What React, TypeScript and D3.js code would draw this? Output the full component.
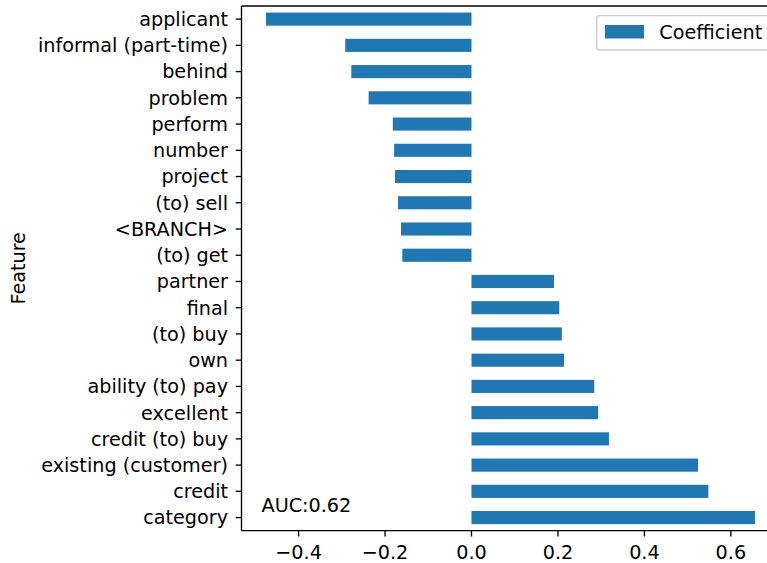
import React from "react";
import * as d3 from "d3";

const features = [
  "applicant",
  "informal (part-time)",
  "behind",
  "problem",
  "perform",
  "number",
  "project",
  "(to) sell",
  "<BRANCH>",
  "(to) get",
  "partner",
  "final",
  "(to) buy",
  "own",
  "ability (to) pay",
  "excellent",
  "credit (to) buy",
  "existing (customer)",
  "credit",
  "category",
];
const coefficients = [
  -0.4755, -0.292, -0.278, -0.238, -0.182, -0.179, -0.177, -0.17, -0.163, -0.16,
  0.191, 0.203, 0.209, 0.214, 0.284, 0.293, 0.318, 0.524, 0.548, 0.656,
];
const xTicks = [-0.4, -0.2, 0.0, 0.2, 0.4, 0.6];
const legendLabel = "Coefficient";
const yAxisLabel = "Feature";
const annotation = "AUC:0.62";

const W = 767;
const H = 563;
const left = 241.5;
const top = 6;
const bottom = 530.7;
const FONT = "DejaVu Sans, sans-serif";
const FS = 19.2;
const BAR = "#1f77b4";

export default function App() {
  const n = features.length;
  const minV = d3.min(coefficients) as number;
  const maxV = d3.max(coefficients) as number;
  const pad = (maxV - minV) * 0.05;
  const x = d3.scaleLinear().domain([minV - pad, maxV + pad]).range([left, left + 538]);
  const y = d3.scaleLinear().domain([-0.5, n - 0.5]).range([bottom, top]);
  const barH = Math.abs(y(0.25) - y(-0.25));
  const fmt = (v: number) => (v < 0 ? "\u2212" + Math.abs(v).toFixed(1) : v.toFixed(1));

  return (
    <svg
      width={W}
      height={H}
      style={{ position: "absolute", left: 0, top: 0, background: "#fff" }}
      fontFamily={FONT}
    >
      <rect x={0} y={0} width={W} height={H} fill="#fff" />
      {features.map((f, i) => {
        const pos = n - 1 - i;
        const v = coefficients[i];
        const x0 = x(Math.min(0, v));
        const x1 = x(Math.max(0, v));
        return (
          <rect key={f} x={x0} y={y(pos) - barH / 2} width={x1 - x0} height={barH} fill={BAR} />
        );
      })}
      {features.map((f, i) => {
        const pos = n - 1 - i;
        const yy = y(pos);
        return (
          <g key={"t" + f}>
            <line x1={left - 5.8} x2={left} y1={yy} y2={yy} stroke="#000" strokeWidth={1.33} />
            <text x={left - 13.5} y={yy} dy="0.36em" textAnchor="end" fontSize={FS} fill="#000">
              {f}
            </text>
          </g>
        );
      })}
      {xTicks.map((t) => (
        <g key={"x" + t}>
          <line x1={x(t)} x2={x(t)} y1={bottom} y2={bottom + 5.8} stroke="#000" strokeWidth={1.33} />
          <text x={x(t)} y={bottom + 28.5} textAnchor="middle" fontSize={FS} fill="#000">
            {fmt(t)}
          </text>
        </g>
      ))}
      <line x1={left} x2={left} y1={top} y2={bottom} stroke="#000" strokeWidth={1.33} />
      <line x1={left} x2={W + 20} y1={top} y2={top} stroke="#000" strokeWidth={1.33} />
      <line x1={left} x2={W + 20} y1={bottom} y2={bottom} stroke="#000" strokeWidth={1.33} />
      <text
        transform={`translate(25, ${(top + bottom) / 2}) rotate(-90)`}
        textAnchor="middle"
        fontSize={FS}
        fill="#000"
      >
        {yAxisLabel}
      </text>
      <text x={261.5} y={511.5} fontSize={FS} fill="#000">
        {annotation}
      </text>
      <rect
        x={596.7}
        y={15.7}
        width={200}
        height={34.3}
        rx={3}
        fill="#fff"
        fillOpacity={0.8}
        stroke="#cccccc"
        strokeWidth={1.33}
      />
      <rect x={605} y={25} width={39} height={13.5} fill={BAR} />
      <text x={659.3} y={32} dy="0.36em" fontSize={FS} fill="#000">
        {legendLabel}
      </text>
    </svg>
  );
}
